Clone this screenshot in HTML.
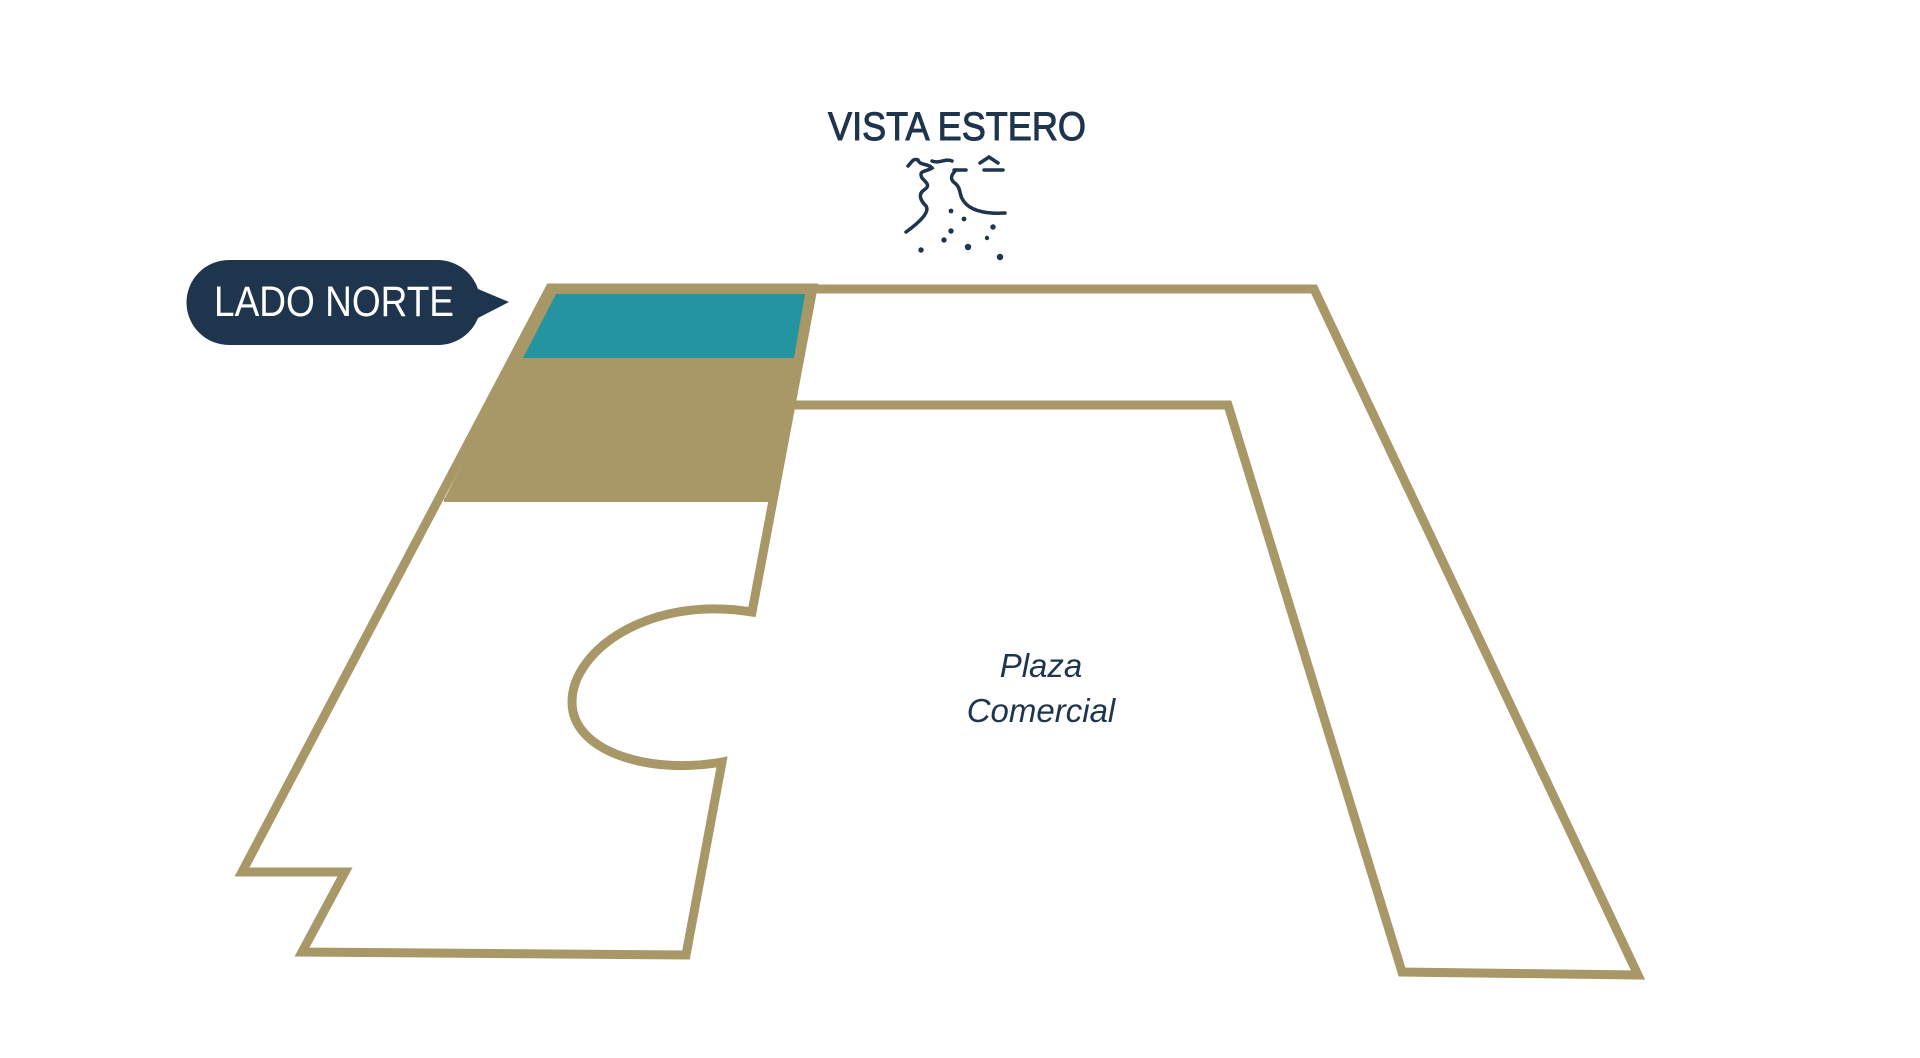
<!DOCTYPE html>
<html><head><meta charset="utf-8"><style>
html,body{margin:0;padding:0;background:#fff;}
body{width:1920px;height:1058px;overflow:hidden;position:relative;}
</style></head><body>
<svg width="1920" height="1058" viewBox="0 0 1920 1058" xmlns="http://www.w3.org/2000/svg" style="position:absolute;left:0;top:0">
  <polygon points="550,288 813,288 772,500 444,500" fill="#a89868"/>
  <polygon points="523,358 556,294 805,294 794,358" fill="#2394a0"/>
  <path d="M550,288 L813,288 L752,612 C650,595 572,650 572,702 C572,752 650,775 722,762 L686,955 L302,952 L345,872 L242,872 Z" fill="none" stroke="#a89868" stroke-width="9" stroke-linejoin="miter"/>
  <line x1="444" y1="500" x2="772" y2="500" stroke="#a89868" stroke-width="4"/>
  <path d="M813,289 L1314,289 L1638,975 L1402,972 L1228,405 L792,405" fill="none" stroke="#a89868" stroke-width="9" stroke-linejoin="miter"/>
  <path d="M229,260 L438,260 A43,43 0 0 1 478,289 L509,302 L478,318 A43,43 0 0 1 438,345 L229,345 A42.5,42.5 0 0 1 229,260 Z" fill="#1f344d"/>
  <text x="334" y="316" text-anchor="middle" font-family="Liberation Sans, sans-serif" font-size="43" fill="#fff" textLength="240" lengthAdjust="spacingAndGlyphs">LADO NORTE</text>
  <text x="957" y="140" text-anchor="middle" font-family="Liberation Sans, sans-serif" font-size="40" fill="#1f344d" stroke="#1f344d" stroke-width="1" textLength="258" lengthAdjust="spacingAndGlyphs">VISTA ESTERO</text>
  <g fill="none" stroke="#1f344d" stroke-width="3.5" stroke-linecap="round">
    <path d="M908,166 C912,162 913,158 918,160 C920,166 928,163 932,168 C926,172 918,170 922,178 C928,184 930,186 924,190 C918,194 920,200 926,206 C930,212 920,222 906,232"/>
    <path d="M932,161 C940,164 945,158 952,161"/>
    <path d="M956,170 C950,176 950,180 956,184 C962,190 958,196 966,204 C974,212 990,214 1005,213"/>
    <path d="M954,170 L966,170"/>
    <path d="M980,163 L989,157 L998,163"/>
    <path d="M984,170 L1003,170"/>
  </g>
  <g fill="#1f344d">
    <circle cx="951" cy="211" r="2.4"/><circle cx="964" cy="219" r="2.4"/><circle cx="951" cy="231" r="2.7"/>
    <circle cx="944" cy="240" r="2.7"/><circle cx="968" cy="247" r="3.2"/><circle cx="993" cy="227" r="2.7"/>
    <circle cx="987" cy="238" r="2.2"/><circle cx="921" cy="250" r="2.7"/><circle cx="1000" cy="257" r="3.2"/>
  </g>
  <text x="1041" y="677" text-anchor="middle" font-family="Liberation Sans, sans-serif" font-style="italic" font-size="33" fill="#1f344d">Plaza</text>
  <text x="1041" y="722" text-anchor="middle" font-family="Liberation Sans, sans-serif" font-style="italic" font-size="33" fill="#1f344d">Comercial</text>
</svg>
</body></html>
